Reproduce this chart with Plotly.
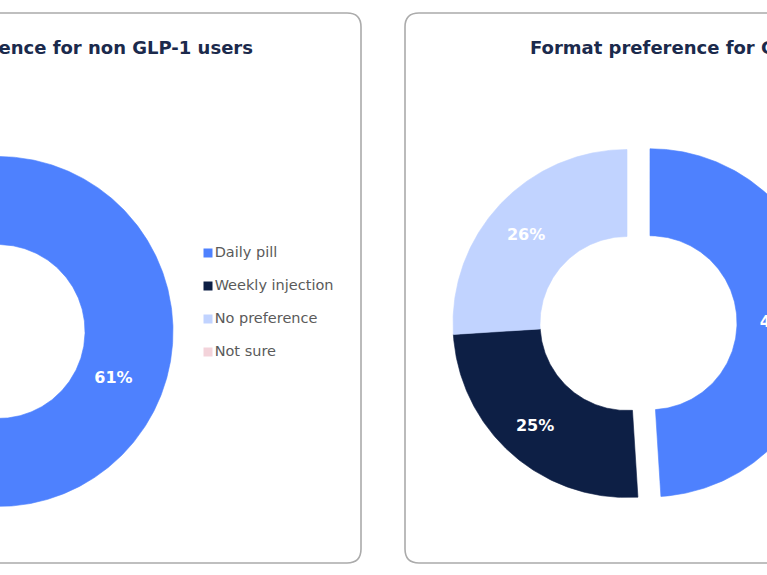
import numpy as np
import plotly.graph_objects as go

# ---------------- data ----------------
categories = ["Daily pill", "Weekly injection", "No preference", "Not sure"]
non_glp1_values = [61, 13, 21, 5]      # only Daily pill is readable in the crop
glp1_values = [49, 25, 26, 0]
slice_colors = ["#4e81fe", "#0d1f45", "#c1d3ff", "#f3d3da"]
titles = ["Format preference for non GLP-1 users", "Format preference for GLP-1 users"]
glp1_pull = [23, 0, 0, 0]
non_glp1_pull = [0, 0, 0, 0]

W, H = 767, 575
FONT = "DejaVu Sans"
LABEL_DX, LABEL_DY = -4, 4
fig = go.Figure()


def rounded_rect(x0, y0, x1, y1, r):
    return (f"M{x0 + r},{y0} L{x1 - r},{y0} Q{x1},{y0} {x1},{y0 + r} "
            f"L{x1},{y1 - r} Q{x1},{y1} {x1 - r},{y1} L{x0 + r},{y1} "
            f"Q{x0},{y1} {x0},{y1 - r} L{x0},{y0 + r} Q{x0},{y0} {x0 + r},{y0} Z")


def add_donut(cx, cy, r_out, r_in, values, pulls, label_r):
    total = float(sum(values))
    start = 0.0
    for i, v in enumerate(values):
        if v <= 0:
            continue
        a0 = start / total * 2 * np.pi
        a1 = (start + v) / total * 2 * np.pi
        start += v
        mid = (a0 + a1) / 2
        ox = pulls[i] * np.sin(mid)
        oy = -pulls[i] * np.cos(mid)
        n = max(int((a1 - a0) * 80), 10)
        t = np.linspace(a0, a1, n)
        xs = np.concatenate([cx + ox + r_out * np.sin(t), cx + ox + r_in * np.sin(t[::-1])])
        ys = np.concatenate([cy + oy - r_out * np.cos(t), cy + oy - r_in * np.cos(t[::-1])])
        xs = np.append(xs, xs[0])
        ys = np.append(ys, ys[0])
        fig.add_trace(go.Scatter(
            x=xs, y=ys, mode="lines", fill="toself", fillcolor=slice_colors[i],
            line=dict(width=0.6, color=slice_colors[i]), name=categories[i],
            hoverinfo="name", showlegend=False))
        fig.add_trace(go.Scatter(
            x=[cx + ox + label_r * np.sin(mid) + LABEL_DX],
            y=[cy + oy - label_r * np.cos(mid) + LABEL_DY],
            mode="text", text=[f"{v}%"], hoverinfo="skip", showlegend=False,
            textfont=dict(family=FONT, size=16, color="white", weight="bold")))


# panels
panel_style = dict(type="path", xref="x", yref="y", layer="below",
                   line=dict(color="#ababab", width=1.6), fillcolor="white")
shapes = [
    dict(path=rounded_rect(-40, 13, 361, 563, 14), **panel_style),
    dict(path=rounded_rect(405, 13, 830, 563, 14), **panel_style),
]

# donuts
add_donut(-2, 331.5, 175, 87, non_glp1_values, non_glp1_pull, 127)
add_donut(627, 323.5, 174, 87, glp1_values, glp1_pull, 133)

# legend (left panel)
leg_y = [253 + 33 * i for i in range(len(categories))]
for i, cat in enumerate(categories):
    fig.add_trace(go.Scatter(
        x=[208], y=[leg_y[i]], mode="markers+text", text=[cat], textposition="middle right",
        marker=dict(symbol="square", size=9, color=slice_colors[i]),
        textfont=dict(family=FONT, size=14.5, color="#5a5a5a"),
        hoverinfo="skip", showlegend=False))

annotations = [
    dict(x=255, y=47, xref="x", yref="y", xanchor="right", yanchor="middle",
         text=f"<b>{titles[0]}</b>", showarrow=False,
         font=dict(family=FONT, size=18, color="#1b2a4c")),
    dict(x=528, y=47, xref="x", yref="y", xanchor="left", yanchor="middle",
         text=f"<b>{titles[1]}</b>", showarrow=False,
         font=dict(family=FONT, size=18, color="#1b2a4c")),
]

fig.update_layout(
    width=W, height=H, margin=dict(l=0, r=0, t=0, b=0),
    paper_bgcolor="white", plot_bgcolor="white",
    xaxis=dict(range=[0, W], visible=False, fixedrange=True),
    yaxis=dict(range=[H, 0], visible=False, fixedrange=True),
    shapes=shapes, annotations=annotations, showlegend=False,
)

fig.write_html("out.html")
